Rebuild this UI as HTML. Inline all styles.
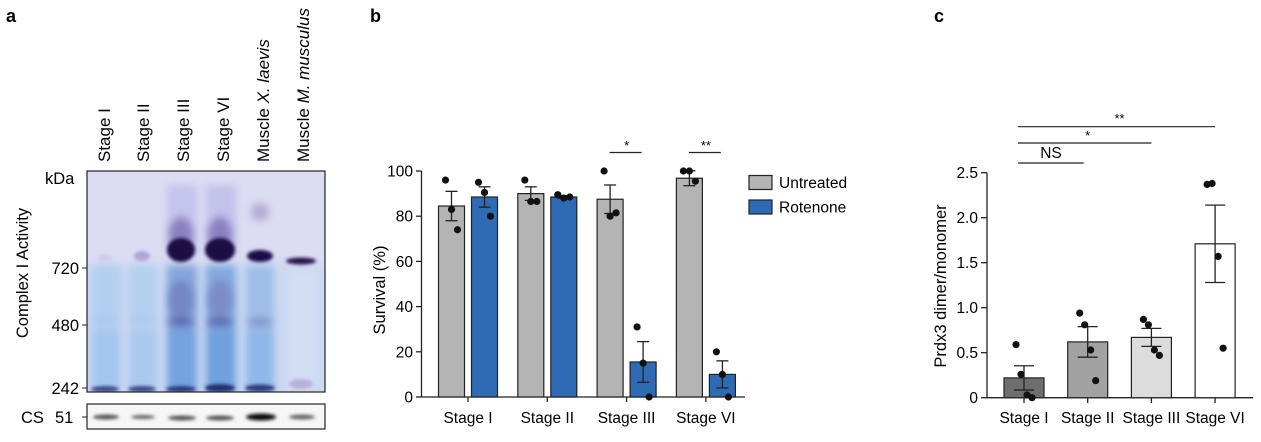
<!DOCTYPE html>
<html><head><meta charset="utf-8"><style>
html,body{margin:0;padding:0;background:#fff}
svg{display:block;font-family:"Liberation Sans",Arial,sans-serif}
</style></head><body>
<svg id="fig" width="1261" height="442" viewBox="0 0 1261 442" xmlns="http://www.w3.org/2000/svg">
<defs>
<filter id="b3" x="-50%" y="-50%" width="200%" height="200%"><feGaussianBlur stdDeviation="4"/></filter>
<filter id="b6" x="-50%" y="-50%" width="200%" height="200%"><feGaussianBlur stdDeviation="6"/></filter>
<filter id="b2" x="-50%" y="-50%" width="200%" height="200%"><feGaussianBlur stdDeviation="1.5"/></filter>
<clipPath id="gelclip"><rect x="87" y="171" width="238" height="221"/></clipPath>
<clipPath id="csclip"><rect x="87" y="404" width="238" height="25"/></clipPath>
</defs>
<text x="6" y="22" font-size="18" font-weight="bold">a</text>
<text x="370" y="22" font-size="18" font-weight="bold">b</text>
<text x="934" y="22" font-size="18" font-weight="bold">c</text>

<g>
 <g font-size="17">
  <text transform="translate(110,162) rotate(-90)">Stage I</text>
  <text transform="translate(149,162) rotate(-90)">Stage II</text>
  <text transform="translate(189,162) rotate(-90)">Stage III</text>
  <text transform="translate(229,162) rotate(-90)">Stage VI</text>
  <text transform="translate(269,162) rotate(-90)">Muscle <tspan font-style="italic">X. laevis</tspan></text>
  <text transform="translate(309,162) rotate(-90)">Muscle <tspan font-style="italic">M. musculus</tspan></text>
 </g>
 <text x="45" y="184" font-size="16.5">kDa</text>
 <text x="79" y="274" font-size="16.5" text-anchor="end">720</text>
 <text x="79" y="331" font-size="16.5" text-anchor="end">480</text>
 <text x="79" y="394" font-size="16.5" text-anchor="end">242</text>
 <g stroke="#222" stroke-width="1">
  <line x1="82" y1="268" x2="87" y2="268"/><line x1="82" y1="325" x2="87" y2="325"/><line x1="82" y1="388" x2="87" y2="388"/><line x1="82" y1="417" x2="87" y2="417"/>
 </g>
 <text transform="translate(28,273) rotate(-90)" font-size="16.5" text-anchor="middle">Complex I Activity</text>
 <text x="21" y="423" font-size="16.5">CS</text>
 <text x="55" y="423" font-size="16.5">51</text>
 <g clip-path="url(#gelclip)">
  <rect x="87" y="171" width="238" height="221" fill="#dcdcf2"/>
  <rect x="80" y="265" width="250" height="130" fill="#cad8f2" filter="url(#b6)"/>
  <g filter="url(#b3)">
   <rect x="92" y="265" width="28" height="130" fill="#b3cff0"/>
   <rect x="129" y="265" width="28" height="130" fill="#b6d0f0"/>
   <rect x="167" y="185" width="30" height="70" fill="#c4c4ec"/>
   <rect x="206" y="185" width="30" height="70" fill="#c2c2ea"/>
   <rect x="167" y="265" width="30" height="130" fill="#85a6dc"/>
   <rect x="206" y="265" width="30" height="130" fill="#83a8de"/>
   <rect x="246" y="265" width="28" height="130" fill="#a0bee8"/>
   <rect x="167" y="330" width="30" height="62" fill="#75a2e0"/>
   <rect x="206" y="330" width="30" height="62" fill="#70a0e0"/>
   <rect x="246" y="330" width="28" height="62" fill="#90b7ea"/>
   <rect x="92" y="330" width="28" height="62" fill="#a4c6ee"/>
   <rect x="129" y="330" width="28" height="62" fill="#aac9ee"/>
   <rect x="288" y="270" width="28" height="120" fill="#d2def4"/>
  </g>
  <g filter="url(#b3)">
   <ellipse cx="181" cy="235" rx="12" ry="18" fill="#8a80c0"/>
   <ellipse cx="220" cy="235" rx="12" ry="18" fill="#8a80c0"/>
   <ellipse cx="260" cy="212" rx="9" ry="9" fill="#b4aad4"/>
   <ellipse cx="181" cy="300" rx="12" ry="20" fill="#7486c4"/>
   <ellipse cx="220" cy="300" rx="12" ry="20" fill="#7c8cc6"/>
   <ellipse cx="181" cy="322" rx="13" ry="4" fill="#5464ae"/>
   <ellipse cx="220" cy="322" rx="13" ry="4" fill="#5464ae"/>
   <ellipse cx="260" cy="322" rx="12" ry="4" fill="#8090c6"/>
   <ellipse cx="105" cy="319" rx="12" ry="3" fill="#a8c6ee"/>
   <ellipse cx="142" cy="319" rx="12" ry="3" fill="#a8c6ee"/>
  </g>
  <g filter="url(#b2)">
   <ellipse cx="181" cy="250" rx="14" ry="12" fill="#1a0c44"/>
   <ellipse cx="220" cy="250" rx="15" ry="12" fill="#1a0c44"/>
   <ellipse cx="260" cy="256" rx="13" ry="6" fill="#1e1048"/>
   <ellipse cx="301" cy="261" rx="15" ry="3.5" fill="#2a1850"/>
   <ellipse cx="142" cy="256" rx="8" ry="5" fill="#b0a4d4"/>
   <ellipse cx="105" cy="258" rx="7" ry="4" fill="#d0cbea"/>
   <ellipse cx="105" cy="389" rx="14" ry="3" fill="#3b4a8a"/>
   <ellipse cx="142" cy="389" rx="14" ry="3" fill="#3b4a8a"/>
   <ellipse cx="181" cy="389" rx="15" ry="3" fill="#2a3a80"/>
   <ellipse cx="220" cy="388" rx="15" ry="4" fill="#22306e"/>
   <ellipse cx="260" cy="388" rx="15" ry="3.5" fill="#2a3a80"/>
   <ellipse cx="301" cy="384" rx="12" ry="5" fill="#b8b0dc"/>
  </g>
 </g>
 <rect x="87" y="171" width="238" height="221" fill="none" stroke="#222" stroke-width="1.2"/>
 <g clip-path="url(#csclip)">
  <rect x="87" y="404" width="238" height="25" fill="#f6f6f6"/>
  <g filter="url(#b2)">
   <ellipse cx="106" cy="417" rx="13" ry="2.5" fill="#555"/>
   <ellipse cx="143" cy="417" rx="12" ry="2" fill="#666"/>
   <ellipse cx="182" cy="418" rx="14" ry="2.5" fill="#555"/>
   <ellipse cx="220" cy="418" rx="14" ry="2.5" fill="#555"/>
   <ellipse cx="261" cy="417" rx="15" ry="3.5" fill="#111"/>
   <ellipse cx="302" cy="417" rx="13" ry="2.5" fill="#666"/>
  </g>
 </g>
 <rect x="87" y="404" width="238" height="25" fill="none" stroke="#222" stroke-width="1.2"/>
</g>

<g id="chartB"></g>
<g id="chartC"></g>
</svg>
<script>
const NS="http://www.w3.org/2000/svg";
// ---- Panel b data ----
const bCategories=["Stage I","Stage II","Stage III","Stage VI"];
const bUntreated=[84.5,90,87.5,96.8];
const bRotenone=[88.5,88.5,15.5,10];
const bUntreatedSem=[6.5,3,6.3,3.3];
const bRotenoneSem=[4.5,0.6,9,6];
const bUntreatedPts=[[96,83,74],[96,86.5,86.5],[100,80,81.5],[100,100,95.5]];
const bRotenonePts=[[95,90.5,80],[89.5,88,88.5],[31,15,0],[20,10,0]];
const bTicks=[0,20,40,60,80,100];
const bSig=[null,null,"*","**"];
// ---- Panel c data ----
const cCategories=["Stage I","Stage II","Stage III","Stage VI"];
const cValues=[0.22,0.62,0.67,1.71];
const cSem=[0.135,0.17,0.1,0.43];
const cPts=[[0.59,0.26,0.03,0.0],[0.94,0.81,0.53,0.19],[0.87,0.81,0.53,0.47],[2.37,2.38,1.57,0.55]];
const cTicks=[0,0.5,1.0,1.5,2.0,2.5];
const cTickLabels=["0","0.5","1.0","1.5","2.0","2.5"];
const cColors=["#6e6e6e","#a2a2a2","#dcdcdc","#ffffff"];

function mk(parent,tag,attrs,txt){const e=document.createElementNS(NS,tag);for(const k in attrs)e.setAttribute(k,attrs[k]);if(txt!==undefined)e.textContent=txt;parent.appendChild(e);return e;}
const jit3=[-6,0,6], jit4=[-8,-3,3,8];

(function(){
 const g=document.getElementById('chartB');
 const y=v=>397-v*2.26;
 const gx=i=>468+i*79.3;
 const bw=26;
 mk(g,'line',{x1:421.5,y1:y(100),x2:421.5,y2:397,stroke:'#222','stroke-width':1.3});
 mk(g,'line',{x1:421.5,y1:397,x2:745,y2:397,stroke:'#222','stroke-width':1.3});
 bTicks.forEach(t=>{
  mk(g,'line',{x1:416,y1:y(t),x2:421.5,y2:y(t),stroke:'#222','stroke-width':1.3});
  const tl=mk(g,'text',{x:413,y:y(t)+5.5,'font-size':15.5,'text-anchor':'end'},t);
  
  
 });
 const yl=mk(g,'text',{transform:'translate(385,290) rotate(-90)','font-size':16.5,'text-anchor':'middle'},'Survival (%)');
 
 
 bCategories.forEach((c,i)=>{
  const cx=gx(i);
  mk(g,'line',{x1:cx,y1:397,x2:cx,y2:402,stroke:'#222','stroke-width':1.3});
  const lab=mk(g,'text',{x:cx,y:423,'font-size':15.5,'text-anchor':'middle'},c);
  
  
  [[bUntreated,bUntreatedSem,bUntreatedPts,'#b4b4b4',cx-16.5],[bRotenone,bRotenoneSem,bRotenonePts,'#2f6ab4',cx+16.5]].forEach(([vals,sem,pts,col,bx])=>{
   const r=mk(g,'rect',{x:bx-bw/2,y:y(vals[i]),width:bw,height:397-y(vals[i]),fill:col,stroke:'#222','stroke-width':1.2});
   
   
   const hi=y(vals[i]+sem[i]),lo=y(vals[i]-sem[i]);
   mk(g,'line',{x1:bx,y1:hi,x2:bx,y2:lo,stroke:'#222','stroke-width':1.3});
   mk(g,'line',{x1:bx-6,y1:hi,x2:bx+6,y2:hi,stroke:'#222','stroke-width':1.3});
   mk(g,'line',{x1:bx-6,y1:lo,x2:bx+6,y2:lo,stroke:'#222','stroke-width':1.3});
   pts[i].forEach((p,k)=>{
    const d=mk(g,'circle',{cx:bx+jit3[k],cy:y(p),r:3.6,fill:'#111'});
    
    
   });
  });
  if(bSig[i]){
   mk(g,'line',{x1:cx-17,y1:152.5,x2:cx+15,y2:152.5,stroke:'#222','stroke-width':1.2});
   const s=mk(g,'text',{x:cx,y:150,'font-size':13,'text-anchor':'middle'},bSig[i]);
   
   
  }
 });
 const leg=[['Untreated','#b4b4b4',182.5],['Rotenone','#2f6ab4',207]];
 leg.forEach(([t,col,cy])=>{
  const r=mk(g,'rect',{x:749,y:cy-7,width:23,height:14,fill:col,stroke:'#222','stroke-width':1.2});
  
  
  const tx=mk(g,'text',{x:779,y:cy+5.5,'font-size':15.5},t);
  
  
 });
})();

(function(){
 const g=document.getElementById('chartC');
 const y=v=>397.7-v*90;
 const gx=i=>1024+i*63.7;
 const bw=40;
 mk(g,'line',{x1:987,y1:y(2.5),x2:987,y2:397.7,stroke:'#222','stroke-width':1.3});
 mk(g,'line',{x1:987,y1:397.7,x2:1253,y2:397.7,stroke:'#222','stroke-width':1.3});
 cTicks.forEach((t,k)=>{
  mk(g,'line',{x1:981,y1:y(t),x2:987,y2:y(t),stroke:'#222','stroke-width':1.3});
  const tl=mk(g,'text',{x:978,y:y(t)+5.5,'font-size':15.5,'text-anchor':'end'},cTickLabels[k]);
  
  
 });
 const yl=mk(g,'text',{transform:'translate(946,286) rotate(-90)','font-size':16.5,'text-anchor':'middle'},'Prdx3 dimer/monomer');
 
 
 cCategories.forEach((c,i)=>{
  const cx=gx(i);
  mk(g,'line',{x1:cx,y1:397.7,x2:cx,y2:403,stroke:'#222','stroke-width':1.3});
  const lab=mk(g,'text',{x:cx,y:423,'font-size':15.5,'text-anchor':'middle'},c);
  
  
  const r=mk(g,'rect',{x:cx-bw/2,y:y(cValues[i]),width:bw,height:397.7-y(cValues[i]),fill:cColors[i],stroke:'#222','stroke-width':1.2});
  
  
  const hi=y(cValues[i]+cSem[i]),lo=y(cValues[i]-cSem[i]);
  mk(g,'line',{x1:cx,y1:hi,x2:cx,y2:lo,stroke:'#222','stroke-width':1.3});
  mk(g,'line',{x1:cx-10,y1:hi,x2:cx+10,y2:hi,stroke:'#222','stroke-width':1.3});
  mk(g,'line',{x1:cx-10,y1:lo,x2:cx+10,y2:lo,stroke:'#222','stroke-width':1.3});
  cPts[i].forEach((p,k)=>{
   const d=mk(g,'circle',{cx:cx+jit4[k],cy:y(p),r:3.6,fill:'#111'});
   
   
  });
 });
 const sigs=[[0,3,126.7,'**',123],[0,2,143,'*',140],[0,1,163,'NS',158]];
 sigs.forEach(([a,b2,yy,t,ty])=>{
  mk(g,'line',{x1:gx(a)-6,y1:yy,x2:gx(b2)+(b2===1?-4:0),y2:yy,stroke:'#222','stroke-width':1.2});
  const s=mk(g,'text',{x:t==='NS'?1051:(gx(a)+gx(b2))/2,y:ty,'font-size':t==='NS'?15.5:13,'text-anchor':'middle'},t);
  
  
 });
})();
</script>
</body></html>
